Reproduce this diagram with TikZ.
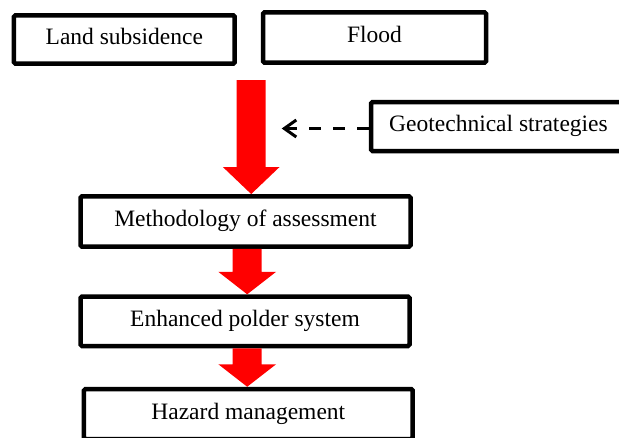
\documentclass[tikz,border=0pt]{standalone}
\usepackage{fontspec}
\setmainfont{Liberation Serif}
\usetikzlibrary{arrows.meta,calc}

\tikzset{
  box/.style n args={2}{draw=black, line width=4.5pt, rounded corners=1.5pt,
    fill=white, inner sep=0pt, minimum width=#1, minimum height=#2,
    font=\fontsize{23.5}{28}\selectfont, text height=16.5pt, text depth=5.9pt},
  % filled block arrow: #1 half shaft width, #2 half head width, #3 head length
  block arrow/.style n args={3}{to path={
    let \p1=(\tikztostart), \p2=(\tikztotarget) in
    (\x1-#1,\y1) -- (\x1-#1,\y2+#3) -- (\x1-#2,\y2+#3) -- (\x1,\y2)
    -- (\x1+#2,\y2+#3) -- (\x1+#1,\y2+#3) -- (\x1+#1,\y1) -- cycle}},
  flowarrow/.style={fill=red, draw=none},
  dashlink/.style={draw=black, line width=3pt, dash pattern=on 11.5pt off 12.5pt,
    -{Straight Barb[length=12pt,width=17pt]}},
}

\begin{document}
\begin{tikzpicture}[x=1pt,y=-1pt]
  \useasboundingbox (0,0) rectangle (619,437);

  % causes
  \node[box={220.7pt}{48.4pt}] (land)  at (124.3,39.5) {Land subsidence};
  \node[box={223pt}{50.4pt}]   (flood) at (374.5,37.5) {Flood};

  % supporting input (runs past the right edge of the page)
  \node[box={290pt}{49pt}] (geo) at (516,126.5) {\hspace*{-35pt}Geotechnical strategies};

  % main chain
  \node[box={330pt}{50.4pt}]   (meth) at (245.5,221.5) {Methodology of assessment};
  \node[box={329pt}{49.5pt}]   (enh)  at (245,321.3)   {Enhanced polder system};
  \node[box={328.7pt}{50pt}]   (haz)  at (248.3,414)   {Hazard management};

  % red flow arrows
  \coordinate (a1) at (251.2,80);
  \coordinate (a2) at ($(meth.south)+(1.7,0)$);
  \coordinate (a3) at ($(enh.south)+(2.2,0)$);
  \fill[flowarrow] (a1) to[block arrow={14.5pt}{28.3pt}{27pt}] (meth.north);
  \fill[flowarrow] (a2) to[block arrow={14.5pt}{28.9pt}{22.5pt}] (enh.north);
  \fill[flowarrow] (a3) to[block arrow={14.5pt}{28.9pt}{22.5pt}] (haz.north);

  % dashed link from the strategies
  \coordinate (tip) at (281.7,128.5);
  \draw[dashlink] (geo.west |- tip) -- (tip);
\end{tikzpicture}
\end{document}
